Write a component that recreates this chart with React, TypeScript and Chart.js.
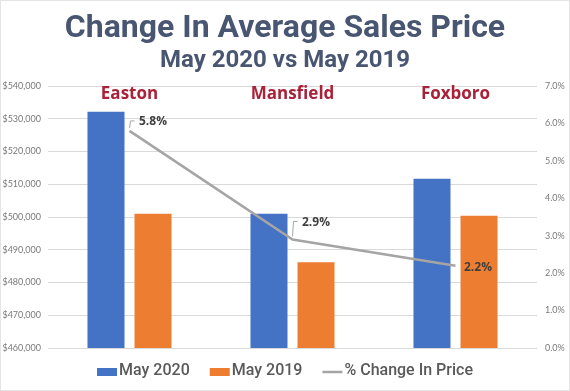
import React, { useEffect, useRef } from "react";
import { Chart, registerables } from "chart.js";

Chart.register(...registerables);

const categories = ["Easton", "Mansfield", "Foxboro"];
const may2020 = [532100, 501000, 511700];
const may2019 = [501000, 486200, 500400];
const pctChange = [5.8, 2.9, 2.2];
const pctLabels = ["5.8%", "2.9%", "2.2%"];
const seriesNames = ["May 2020", "May 2019", "% Change In Price"];
const titleText = "Change In Average Sales Price";
const subtitleText = "May 2020 vs May 2019";

// label placement (style, not data)
const labelDx = [9.5, 9.5, 8.5];
const labelDy = [-9, -17, 2];
const leaderOn = [true, true, false];

const BLUE = "#4472C4";
const ORANGE = "#ED7D31";
const GRAY = "#A5A5A5";
const TITLE = "#485672";
const CAT = "#A9223A";

const overlayPlugin = {
  id: "overlay",
  afterDatasetsDraw(chart: any) {
    const ctx = chart.ctx;
    const x = chart.scales.x;
    const area = chart.chartArea;
    ctx.save();
    // category headings
    ctx.font = "bold 17px 'Open Sans'";
    ctx.fillStyle = CAT;
    ctx.textAlign = "center";
    ctx.textBaseline = "middle";
    categories.forEach((c, i) => {
      ctx.fillText(c, x.getPixelForValue(i), area.top + 8);
    });
    // percent labels with leader lines
    const meta = chart.getDatasetMeta(2);
    ctx.font = "bold 12px 'Open Sans'";
    ctx.fillStyle = "#404040";
    ctx.textAlign = "left";
    meta.data.forEach((pt: any, i: number) => {
      const px = pt.x;
      const py = pt.y;
      if (leaderOn[i]) {
        ctx.strokeStyle = GRAY;
        ctx.lineWidth = 1;
        ctx.beginPath();
        ctx.moveTo(px, py - 3);
        ctx.lineTo(px + 1, py + labelDy[i] - 1);
        ctx.lineTo(px + 5, py + labelDy[i] - 1);
        ctx.stroke();
      }
      ctx.fillText(pctLabels[i], px + labelDx[i], py + labelDy[i]);
    });
    ctx.restore();
  },
  afterDraw(chart: any) {
    const ctx = chart.ctx;
    ctx.save();
    // titles
    ctx.fillStyle = TITLE;
    ctx.textAlign = "center";
    ctx.textBaseline = "alphabetic";
    ctx.font = "bold 32px Roboto";
    ctx.fillText(titleText, chart.width / 2, 37);
    ctx.font = "bold 24px Roboto";
    ctx.fillText(subtitleText, chart.width / 2, 67);
    // legend
    ctx.font = "500 16px Roboto";
    ctx.textBaseline = "middle";
    ctx.textAlign = "left";
    const ds = chart.data.datasets;
    const items = ds.map((d: any) => ({
      text: d.label,
      color: d.type === "line" ? d.borderColor : d.backgroundColor,
      line: d.type === "line",
    }));
    const gap = 20;
    const sw = 20;
    const widths = items.map((it: any) => sw + 2 + ctx.measureText(it.text).width);
    const total = widths.reduce((a: number, b: number) => a + b, 0) + gap * (items.length - 1);
    let cx = chart.width / 2 - total / 2;
    const cy = 372;
    items.forEach((it: any, i: number) => {
      if (it.line) {
        ctx.strokeStyle = it.color;
        ctx.lineWidth = 2.5;
        ctx.beginPath();
        ctx.moveTo(cx, cy);
        ctx.lineTo(cx + sw, cy);
        ctx.stroke();
      } else {
        ctx.fillStyle = it.color;
        ctx.fillRect(cx, cy - 4, sw, 8);
      }
      ctx.fillStyle = "#595959";
      ctx.fillText(it.text, cx + sw + 2, cy - 1);
      cx += widths[i] + gap;
    });
    // frame
    ctx.strokeStyle = "#e4e4e4";
    ctx.lineWidth = 1;
    ctx.strokeRect(0.5, 0.5, chart.width - 1, chart.height - 1);
    ctx.restore();
  },
};

export default function App() {
  const ref = useRef<HTMLCanvasElement>(null);
  useEffect(() => {
    document.body.style.margin = "0";
    const chart = new Chart(ref.current as HTMLCanvasElement, {
      type: "bar",
      data: {
        labels: categories,
        datasets: [
          {
            type: "bar",
            label: seriesNames[0],
            data: may2020,
            backgroundColor: BLUE,
            yAxisID: "y",
            order: 2,
            categoryPercentage: 0.577,
            barPercentage: 0.787,
          },
          {
            type: "bar",
            label: seriesNames[1],
            data: may2019,
            backgroundColor: ORANGE,
            yAxisID: "y",
            order: 2,
            categoryPercentage: 0.577,
            barPercentage: 0.787,
          },
          {
            type: "line",
            label: seriesNames[2],
            data: pctChange,
            borderColor: GRAY,
            backgroundColor: GRAY,
            borderWidth: 2.5,
            pointRadius: 0,
            tension: 0,
            yAxisID: "y1",
            order: 0,
          },
        ] as any,
      },
      options: {
        responsive: false,
        animation: false,
        devicePixelRatio: 1,
        layout: { padding: { left: 0, right: 0, top: 86, bottom: 43 } },
        plugins: {
          legend: { display: false },
          tooltip: { enabled: false },
          title: { display: false },
        },
        scales: {
          x: {
            display: false,
          },
          y: {
            position: "left",
            min: 460000,
            max: 540000,
            ticks: {
              stepSize: 10000,
              padding: 7,
              color: "#7a7a7a",
              font: { family: "Lato", size: 9 },
              callback: (v: any) => "$" + Number(v).toLocaleString("en-US"),
            },
            grid: { color: "#d9d9d9", drawTicks: false },
            border: { display: false },
            afterFit: (s: any) => {
              s.width = 48;
            },
          },
          y1: {
            position: "right",
            min: 0,
            max: 7,
            ticks: {
              stepSize: 1,
              padding: 8,
              color: "#7a7a7a",
              font: { family: "Lato", size: 9 },
              callback: (v: any) => Number(v).toFixed(1) + "%",
            },
            grid: { drawOnChartArea: false, drawTicks: false },
            border: { display: false },
            afterFit: (s: any) => {
              s.width = 33;
            },
          },
        },
      } as any,
      plugins: [overlayPlugin],
    });
    return () => chart.destroy();
  }, []);
  return <canvas ref={ref} width={570} height={391} />;
}
